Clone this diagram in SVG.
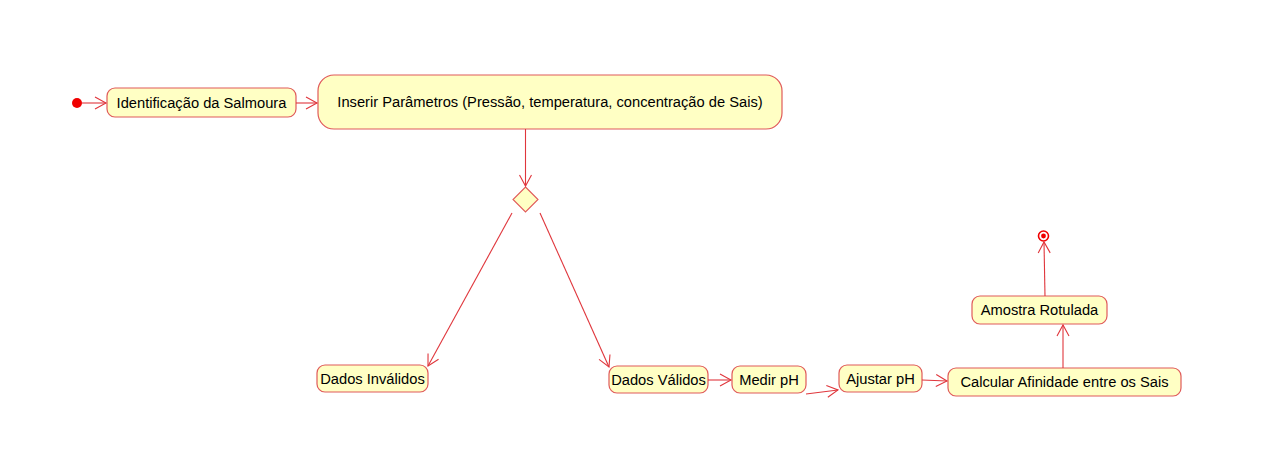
<svg xmlns="http://www.w3.org/2000/svg" width="1266" height="465" viewBox="0 0 1266 465">
<style>
.n rect{fill:#ffffc4;stroke:#e05a5a;stroke-width:1.2}
.n text{font-family:"Liberation Sans",Arial,sans-serif;font-size:14.7px;fill:#000;text-anchor:middle;dominant-baseline:central}
.c line,.c polyline{stroke:#e0363c;stroke-width:1.1;fill:none}
</style>
<defs>
<marker id="a" markerWidth="14" markerHeight="14" refX="12" refY="7" orient="auto" markerUnits="userSpaceOnUse">
<polyline points="1,1 12,7 1,13" fill="none" stroke="#e0363c" stroke-width="1.1"/>
</marker>
</defs>
<rect width="1266" height="465" fill="#fff"/>
<g id="start"><circle cx="77" cy="103" r="5" fill="#f00000"/></g>
<g id="n1" class="n"><rect x="107" y="88" width="189" height="29" rx="8"/><text x="201.5" y="103">Identificação da Salmoura</text></g>
<g id="n2" class="n"><rect x="318" y="75" width="464" height="54" rx="16"/><text x="550" y="102">Inserir Parâmetros (Pressão, temperatura, concentração de Sais)</text></g>
<g id="dec"><polygon points="525.5,187 538,199.5 525.5,212 513,199.5" fill="#ffffc4" stroke="#e05a5a" stroke-width="1.1"/></g>
<g id="n3" class="n"><rect x="317" y="365" width="111" height="27" rx="8"/><text x="372.5" y="379">Dados Inválidos</text></g>
<g id="n4" class="n"><rect x="609" y="366" width="99" height="27" rx="8"/><text x="658.5" y="380">Dados Válidos</text></g>
<g id="n5" class="n"><rect x="732" y="366" width="74" height="27" rx="8"/><text x="769" y="380">Medir pH</text></g>
<g id="n6" class="n"><rect x="839" y="365" width="83" height="27" rx="8"/><text x="880.5" y="379">Ajustar pH</text></g>
<g id="n7" class="n"><rect x="948" y="368" width="233" height="28" rx="8"/><text x="1064.5" y="382">Calcular Afinidade entre os Sais</text></g>
<g id="n8" class="n"><rect x="972" y="296" width="135" height="28" rx="8"/><text x="1039.5" y="310">Amostra Rotulada</text></g>
<g id="end"><circle cx="1043.5" cy="236" r="5" fill="#fff" stroke="#f00000" stroke-width="1.6"/><circle cx="1043.5" cy="236" r="2.4" fill="#f00000"/></g>
<g id="connectors" class="c">
<line x1="82" y1="103" x2="106" y2="103" marker-end="url(#a)"/>
<line x1="296" y1="103" x2="317" y2="103" marker-end="url(#a)"/>
<line x1="525.5" y1="129" x2="525.5" y2="186" marker-end="url(#a)"/>
<line x1="512" y1="213" x2="428" y2="366" marker-end="url(#a)"/>
<line x1="540" y1="213" x2="609" y2="367" marker-end="url(#a)"/>
<line x1="708" y1="380" x2="731" y2="380" marker-end="url(#a)"/>
<line x1="806" y1="394" x2="838" y2="390" marker-end="url(#a)"/>
<line x1="922" y1="380" x2="947" y2="381" marker-end="url(#a)"/>
<line x1="1063" y1="368" x2="1063" y2="325" marker-end="url(#a)"/>
<line x1="1045" y1="296" x2="1044" y2="242" marker-end="url(#a)"/>
</g>
</svg>
